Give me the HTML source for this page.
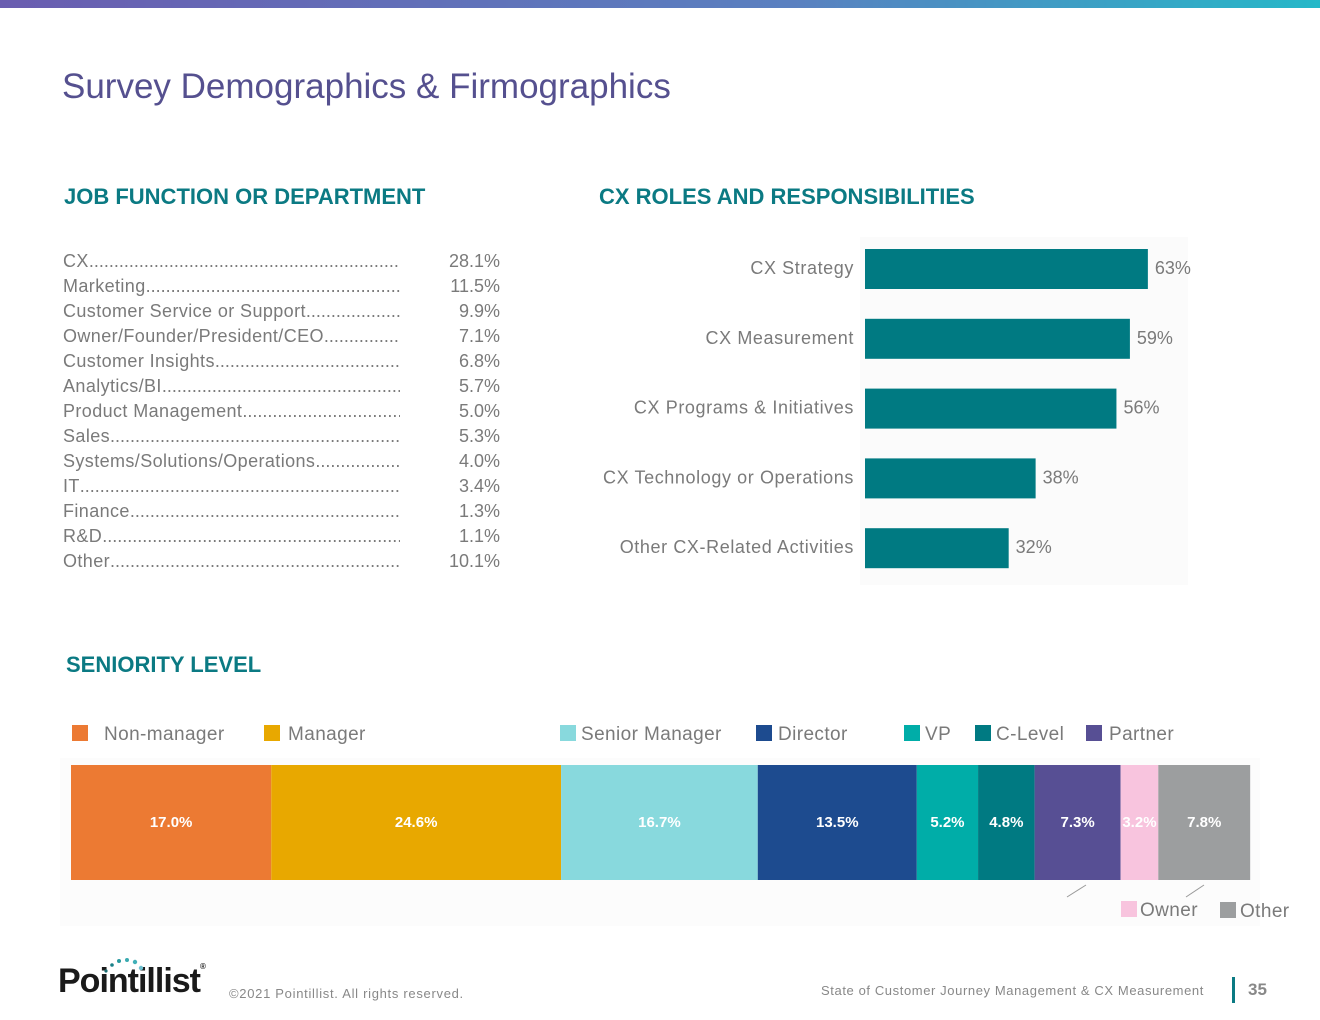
<!DOCTYPE html>
<html><head><meta charset="utf-8">
<style>
html,body{margin:0;padding:0;background:#fff;}
body{width:1320px;height:1020px;position:relative;overflow:hidden;font-family:"Liberation Sans",sans-serif;}
.abs{position:absolute;}
.h2{position:absolute;color:#0b7a83;font-weight:bold;font-size:22px;letter-spacing:0;}
.row{position:absolute;left:63px;width:337px;height:25px;font-size:18px;color:#7a7a7a;white-space:nowrap;overflow:hidden;line-height:25px;letter-spacing:0.4px;}
.row::after{content:"......................................................................................................................";letter-spacing:0;}
.val{position:absolute;left:420px;width:80px;text-align:right;font-size:18px;color:#7a7a7a;line-height:25px;}
</style></head><body>
<div class="abs" style="left:0;top:0;width:1320px;height:8px;background:linear-gradient(90deg,#6a5db0,#5a80c0 60%,#25b8c8);"></div>
<div class="abs" style="left:62px;top:67px;font-size:35px;color:#55508f;">Survey Demographics &amp; Firmographics</div>

<div class="h2" style="left:64px;top:184px;">JOB FUNCTION OR DEPARTMENT</div>
<div class="h2" style="left:599px;top:184px;">CX ROLES AND RESPONSIBILITIES</div>
<div class="h2" style="left:66px;top:652px;">SENIORITY LEVEL</div>

<div id="jobs"></div>

<svg class="abs" style="left:0;top:0" width="1320" height="1020">
 <rect x="860" y="237" width="328" height="348" fill="#fbfbfb"/>
 <rect x="60" y="758" width="1200" height="168" fill="#fcfcfc"/>
 <g id="roles"></g>
 <g id="sen"></g>
 <line x1="1067" y1="897" x2="1086" y2="885" stroke="#999" stroke-width="1"/>
 <line x1="1186" y1="897" x2="1204" y2="885" stroke="#999" stroke-width="1"/>
</svg>

<div class="abs" style="left:58px;top:962px;font-size:34px;font-weight:bold;color:#1a1a1a;letter-spacing:-1px;">Pointillist<span style="font-size:8px;vertical-align:top;">®</span></div>
<svg class="abs" style="left:100px;top:955px" width="50" height="20">
 <circle cx="6" cy="16" r="1.6" fill="#1a6b70"/><circle cx="12" cy="10" r="1.8" fill="#1a8088"/><circle cx="19" cy="6" r="2" fill="#2a9aa0"/><circle cx="27" cy="5" r="2" fill="#3aaab0"/><circle cx="35" cy="7" r="2.2" fill="#40b0b8"/><circle cx="41" cy="13" r="2.2" fill="#70c0d0"/>
</svg>
<div class="abs" style="left:229px;top:986px;font-size:13px;color:#888;letter-spacing:0.7px;">©2021 Pointillist. All rights reserved.</div>
<div class="abs" style="left:821px;top:983px;font-size:13px;color:#888;letter-spacing:0.6px;">State of Customer Journey Management &amp; CX Measurement</div>
<div class="abs" style="left:1232px;top:977px;width:3px;height:26px;background:#0b7a83;"></div>
<div class="abs" style="left:1248px;top:980px;font-size:17px;font-weight:bold;color:#888;">35</div>

<script>
const jobLabels=["CX","Marketing","Customer Service or Support","Owner/Founder/President/CEO","Customer Insights","Analytics/BI","Product Management","Sales","Systems/Solutions/Operations","IT","Finance","R&D","Other"];
const jobValues=[28.1,11.5,9.9,7.1,6.8,5.7,5.0,5.3,4.0,3.4,1.3,1.1,10.1];
const roleLabels=["CX Strategy","CX Measurement","CX Programs & Initiatives","CX Technology or Operations","Other CX-Related Activities"];
const roleValues=[63,59,56,38,32];
const senLabels=["Non-manager","Manager","Senior Manager","Director","VP","C-Level","Partner","Owner","Other"];
const senValues=[17.0,24.6,16.7,13.5,5.2,4.8,7.3,3.2,7.8];
const senColors=["#ec7a33","#e8a800","#88d9dd","#1d4b8f","#00ada8","#007a82","#574f94","#f8c4de","#9c9e9f"];
const NS="http://www.w3.org/2000/svg";

const jobs=document.getElementById('jobs');
jobLabels.forEach((l,i)=>{
  const r=document.createElement('div');r.className='row';r.style.top=(249+i*25)+'px';r.textContent=l;
  
  
  jobs.appendChild(r);
  const v=document.createElement('div');v.className='val';v.style.top=(249+i*25)+'px';v.textContent=jobValues[i].toFixed(1)+'%';
  
  
  jobs.appendChild(v);
});

function t(g,x,y,s,attrs){const e=document.createElementNS(NS,'text');e.setAttribute('x',x);e.setAttribute('y',y);for(const k in attrs)e.setAttribute(k,attrs[k]);e.textContent=s;g.appendChild(e);return e;}
const xRole=v=>865+v*4.49;
const yRole=i=>249+i*69.8;
const rg=document.getElementById('roles');
roleValues.forEach((v,i)=>{
  const r=document.createElementNS(NS,'rect');
  r.setAttribute('x',865);r.setAttribute('y',yRole(i));r.setAttribute('width',xRole(v)-865);r.setAttribute('height',40);r.setAttribute('fill','#007a82');
  
  
  rg.appendChild(r);
  const a=t(rg,854,yRole(i)+25,roleLabels[i],{'text-anchor':'end','font-size':'18','fill':'#7a7a7a','letter-spacing':'0.6','font-family':'Liberation Sans, sans-serif'});
  
  
  const b=t(rg,xRole(v)+7,yRole(i)+25,v+'%',{'font-size':'18','fill':'#7a7a7a','font-family':'Liberation Sans, sans-serif'});
  
  
});

const sg=document.getElementById('sen');
const xSen=p=>71+p*11.78;
let cum=0;
senValues.forEach((v,i)=>{
  const x0=xSen(cum),x1=xSen(cum+v);cum+=v;
  const r=document.createElementNS(NS,'rect');
  r.setAttribute('x',x0);r.setAttribute('y',765);r.setAttribute('width',x1-x0);r.setAttribute('height',115);r.setAttribute('fill',senColors[i]);
  
  
  sg.appendChild(r);
  const l=t(sg,(x0+x1)/2,827,v.toFixed(1)+'%',{'text-anchor':'middle','font-size':'15','font-weight':'bold','fill':'#fff','font-family':'Liberation Sans, sans-serif'});
  
  
});
const legX=[72,264,560,756,904,975,1086,1121,1220];
const legY=[733,733,733,733,733,733,733,909,910];
const legTX=[104,288,581,778,925,996,1109,1140,1240];
senLabels.forEach((l,i)=>{
  const r=document.createElementNS(NS,'rect');
  r.setAttribute('x',legX[i]);r.setAttribute('y',legY[i]-8);r.setAttribute('width',16);r.setAttribute('height',16);r.setAttribute('fill',senColors[i]);
  
  
  sg.appendChild(r);
  const e=t(sg,legTX[i],legY[i]+7,l,{'font-size':'19','fill':'#7a7a7a','letter-spacing':'0.4','font-family':'Liberation Sans, sans-serif'});
  
  
});
</script>
</body></html>
